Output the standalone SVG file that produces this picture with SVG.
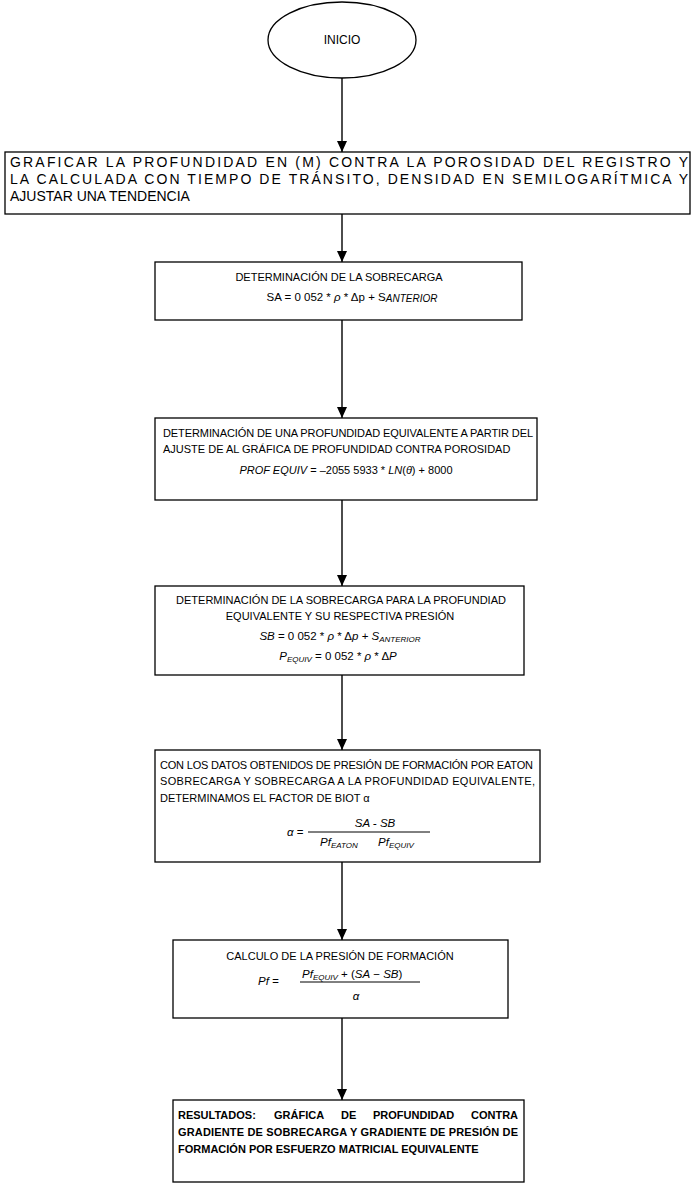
<svg xmlns="http://www.w3.org/2000/svg" width="695" height="1200" viewBox="0 0 695 1200">
<style>
.box{fill:#fff;stroke:#000;stroke-width:1.3}
.t{font-family:"Liberation Sans",Arial,sans-serif;font-size:11px;fill:#000}
.big{font-size:14px}
.f{font-size:11.5px}
.c{text-anchor:middle}
.i{font-style:italic}
.s{font-size:8px;font-style:italic}
.b{font-weight:bold}
.conn line{stroke:#000;stroke-width:1.4}
</style>
<defs>
<marker id="ah" markerUnits="userSpaceOnUse" markerWidth="12" markerHeight="10" refX="11" refY="5" orient="auto" viewBox="0 0 12 10">
<path d="M0,0 L11,5 L0,10 z" fill="#000"/>
</marker>
</defs>
<rect width="695" height="1200" fill="#fff"/>
<g id="connectors" class="conn">
<line x1="342" y1="78" x2="342" y2="152" marker-end="url(#ah)"/>
<line x1="342" y1="214" x2="342" y2="262" marker-end="url(#ah)"/>
<line x1="342" y1="320" x2="342" y2="418" marker-end="url(#ah)"/>
<line x1="342" y1="500" x2="342" y2="586" marker-end="url(#ah)"/>
<line x1="342" y1="675" x2="342" y2="750" marker-end="url(#ah)"/>
<line x1="342" y1="862" x2="342" y2="940" marker-end="url(#ah)"/>
<line x1="342" y1="1018" x2="342" y2="1100" marker-end="url(#ah)"/>
</g>
<g id="inicio">
<ellipse cx="342" cy="40" rx="74" ry="38" class="box"/>
<text x="342" y="44" class="t c" style="font-size:12px">INICIO</text>
</g>
<g id="graficar">
<rect x="5" y="152" width="685" height="62" class="box"/>
<text x="10" y="167" class="t big" textLength="678" lengthAdjust="spacing">GRAFICAR LA PROFUNDIDAD EN (M) CONTRA LA POROSIDAD DEL REGISTRO Y</text>
<text x="10" y="184" class="t big" textLength="678" lengthAdjust="spacing">LA CALCULADA CON TIEMPO DE TRÁNSITO, DENSIDAD EN SEMILOGARÍTMICA Y</text>
<text x="10" y="201" class="t big">AJUSTAR UNA TENDENCIA</text>
</g>
<g id="sobrecarga">
<rect x="155" y="262" width="367" height="58" class="box"/>
<text x="339" y="281" class="t c">DETERMINACIÓN DE LA SOBRECARGA</text>
<text x="352" y="301" class="t f c">SA = 0 052 * <tspan class="i">ρ</tspan> * Δp + S<tspan class="s" dy="1" style="font-size:10px">ANTERIOR</tspan></text>
</g>
<g id="prof-equiv">
<rect x="155" y="418" width="382" height="82" class="box"/>
<text x="163" y="437" class="t" textLength="370" lengthAdjust="spacing">DETERMINACIÓN DE UNA PROFUNDIDAD EQUIVALENTE A PARTIR DEL</text>
<text x="163" y="453" class="t">AJUSTE DE AL GRÁFICA DE PROFUNDIDAD CONTRA POROSIDAD</text>
<text x="346" y="474" class="t c"><tspan class="i">PROF EQUIV</tspan> = –2055 5933 * <tspan class="i">LN</tspan>(<tspan class="i">θ</tspan>) + 8000</text>
</g>
<g id="sobrecarga-equiv">
<rect x="155" y="586" width="369" height="89" class="box"/>
<text x="341" y="604" class="t c">DETERMINACIÓN DE LA SOBRECARGA PARA LA PROFUNDIAD</text>
<text x="340" y="620" class="t c">EQUIVALENTE Y SU RESPECTIVA PRESIÓN</text>
<text x="340" y="640" class="t f c"><tspan class="i">SB</tspan> = 0 052 * <tspan class="i">ρ</tspan> * Δ<tspan class="i">p</tspan> + <tspan class="i">S</tspan><tspan class="s" dy="2">ANTERIOR</tspan></text>
<text x="338" y="660" class="t f c"><tspan class="i">P</tspan><tspan class="s" dy="2">EQUIV</tspan><tspan dy="-2"> = 0 052 * </tspan><tspan class="i">ρ</tspan> * Δ<tspan class="i">P</tspan></text>
</g>
<g id="biot">
<rect x="155" y="750" width="385" height="112" class="box"/>
<text x="160" y="769" class="t" textLength="373" lengthAdjust="spacing">CON LOS DATOS OBTENIDOS DE PRESIÓN DE FORMACIÓN POR EATON</text>
<text x="160" y="785" class="t" textLength="375" lengthAdjust="spacing">SOBRECARGA Y SOBRECARGA A LA PROFUNDIDAD EQUIVALENTE,</text>
<text x="160" y="802" class="t">DETERMINAMOS EL FACTOR DE BIOT α</text>
<text x="287" y="836" class="t f"><tspan class="i">α</tspan> =</text>
<text x="375" y="827" class="t f c i">SA - SB</text>
<line x1="308" y1="832" x2="430" y2="832" stroke="#000" stroke-width="1"/>
<text x="320" y="846" class="t f i">Pf<tspan class="s" dy="2">EATON</tspan></text>
<text x="378" y="846" class="t f i">Pf<tspan class="s" dy="2">EQUIV</tspan></text>
</g>
<g id="presion-formacion">
<rect x="173" y="940" width="335" height="78" class="box"/>
<text x="340" y="960" class="t c">CALCULO DE LA PRESIÓN DE FORMACIÓN</text>
<text x="258" y="985" class="t f i">Pf =</text>
<text x="302" y="978" class="t f"><tspan class="i">Pf</tspan><tspan class="s" dy="2">EQUIV</tspan><tspan dy="-2"> + (</tspan><tspan class="i">SA</tspan> − <tspan class="i">SB</tspan>)</text>
<line x1="300" y1="982" x2="420" y2="982" stroke="#000" stroke-width="1"/>
<text x="356" y="1000" class="t f c i">α</text>
</g>
<g id="resultados">
<rect x="173" y="1100" width="351" height="82" class="box"/>
<text y="1119" class="t b"><tspan x="178">RESULTADOS:</tspan><tspan x="274">GRÁFICA</tspan><tspan x="341">DE</tspan><tspan x="373">PROFUNDIDAD</tspan><tspan x="471">CONTRA</tspan></text>
<text x="178" y="1136" class="t b" textLength="340" lengthAdjust="spacing">GRADIENTE DE SOBRECARGA Y GRADIENTE DE PRESIÓN DE</text>
<text x="178" y="1153" class="t b">FORMACIÓN POR ESFUERZO MATRICIAL EQUIVALENTE</text>
</g>
</svg>
